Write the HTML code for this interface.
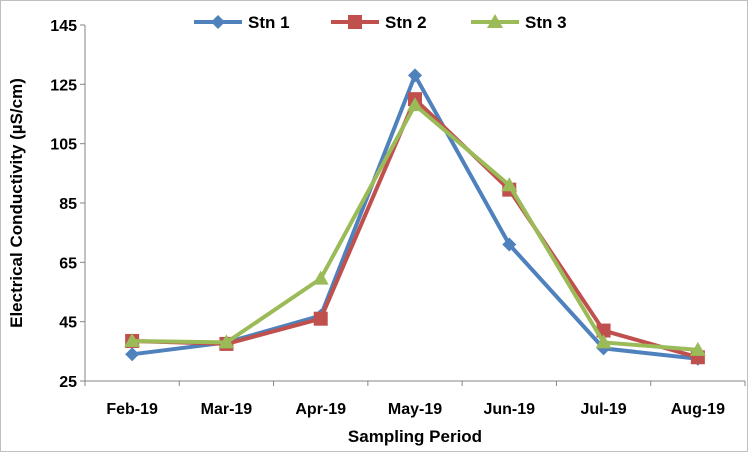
<!DOCTYPE html>
<html><head><meta charset="utf-8"><style>
html,body{margin:0;padding:0;background:#fff;}
svg{display:block;font-family:"Liberation Sans",Arial,sans-serif;}
</style></head><body>
<svg id="chart" width="748" height="452" viewBox="0 0 748 452" xmlns="http://www.w3.org/2000/svg">
<rect x="0.5" y="0.5" width="747" height="451" fill="#fff" stroke="#bfbfbf"/>
<g id="axes"></g>
<g id="series"></g>
<g id="legend"></g>
</svg>
<script>
const categories=["Feb-19","Mar-19","Apr-19","May-19","Jun-19","Jul-19","Aug-19"];
const stn1=[34,38,47,128,71,36,32.5];
const stn2=[38.5,37.5,46,120,89.5,42,33];
const stn3=[38.5,38,59.5,118,91,38,35.5];
const yTicks=[25,45,65,85,105,125,145];
const seriesNames=["Stn 1","Stn 2","Stn 3"];
const NS="http://www.w3.org/2000/svg";
const L=85,R=745,T=25,B=381,yMin=25,yMax=145;
const step=(R-L)/categories.length;
function x(i){return L+step*(i+0.5);}
function y(v){return B-(v-yMin)/(yMax-yMin)*(B-T);}
function mk(tag,attrs,parent){const e=document.createElementNS(NS,tag);for(const k in attrs)e.setAttribute(k,attrs[k]);parent.appendChild(e);return e;}
const axes=document.getElementById('axes');
const a1=mk('line',{x1:L,y1:T,x2:L,y2:B,stroke:'#868686','stroke-width':1},axes);


const a2=mk('line',{x1:L,y1:B,x2:R,y2:B,stroke:'#868686','stroke-width':1},axes);


yTicks.forEach(t=>{
  mk('line',{x1:L-5,y1:y(t),x2:L,y2:y(t),stroke:'#868686'},axes);
  const tx=mk('text',{x:L-8,y:y(t)+6,'text-anchor':'end','font-size':16,'font-weight':'bold',fill:'#000'},axes);
  tx.textContent=t;
  
  
});
for(let i=0;i<=categories.length;i++){mk('line',{x1:L+step*i,y1:B,x2:L+step*i,y2:B+5,stroke:'#868686'},axes);}
categories.forEach((c,i)=>{
  const tx=mk('text',{x:x(i),y:B+33,'text-anchor':'middle','font-size':16,'font-weight':'bold',fill:'#000'},axes);
  tx.textContent=c;
  
  
});
const xt=mk('text',{x:415,y:442,'text-anchor':'middle','font-size':17,'font-weight':'bold'},axes);
xt.textContent='Sampling Period';


const yt=mk('text',{x:0,y:0,transform:'translate(22,203) rotate(-90)','text-anchor':'middle','font-size':17,'font-weight':'bold'},axes);
yt.textContent='Electrical Conductivity (µS/cm)';


const colors=["#4F81BD","#C0504D","#9BBB59"];
const data=[stn1,stn2,stn3];
function marker(g,k,cx,cy,c){
  if(k===0)return mk('polygon',{points:`${cx},${cy-7} ${cx+7},${cy} ${cx},${cy+7} ${cx-7},${cy}`,fill:c},g);
  if(k===1)return mk('rect',{x:cx-7,y:cy-7,width:14,height:14,fill:c},g);
  return mk('polygon',{points:`${cx},${cy-8} ${cx+8},${cy+6} ${cx-8},${cy+6}`,fill:c},g);
}
const sg=document.getElementById('series');
data.forEach((d,k)=>{
  const g=mk('g',{},sg);
  
  
  const ln=mk('polyline',{points:d.map((v,i)=>x(i)+','+y(v)).join(' '),fill:'none',stroke:colors[k],'stroke-width':4,'stroke-linejoin':'round'},g);
  
  
  d.forEach((v,i)=>{
    const m=marker(g,k,x(i),y(v),colors[k]);
    
    
  });
});
const lg=document.getElementById('legend');
const lx=[218,355,495];
seriesNames.forEach((n,k)=>{
  const g=mk('g',{},lg);
  
  
  mk('line',{x1:lx[k]-24,y1:22,x2:lx[k]+24,y2:22,stroke:colors[k],'stroke-width':4},g);
  marker(g,k,lx[k],22,colors[k]);
  const t=mk('text',{x:lx[k]+30,y:28,'font-size':17,'font-weight':'bold'},g);
  t.textContent=n;
});
</script>
</body></html>
